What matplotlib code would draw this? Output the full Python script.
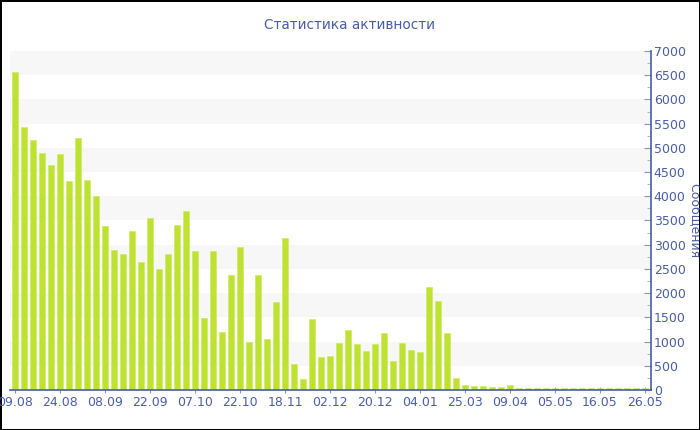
import matplotlib
matplotlib.use("Agg")
from matplotlib import pyplot as plt
import numpy as np

# messages per period (71 bars)
messages = [6570, 5430, 5170, 4900, 4640, 4880, 4320, 5200, 4340, 4000,
            3390, 2890, 2815, 3280, 2650, 3550, 2500, 2800, 3400, 3700,
            2865, 1490, 2880, 1190, 2370, 2960, 990, 2375, 1050, 1815,
            3140, 535, 220, 1465, 675, 700, 980, 1230, 950, 812,
            943, 1170, 592, 964, 826, 792, 2120, 1830, 1170, 248,
            96, 76, 83, 60, 60, 110, 50, 50, 45, 40,
            48, 48, 45, 40, 40, 40, 40, 45, 45, 40, 40]
tick_labels = ['09.08', '24.08', '08.09', '22.09', '07.10', '22.10', '18.11', '02.12',
               '20.12', '04.01', '25.03', '09.04', '05.05', '16.05', '26.05']
label_step = 5

text_color = '#4a5ea8'
bar_color = '#bde232'

plt.rcParams['font.family'] = ['DejaVu Sans']

fig = plt.figure(figsize=(7, 4.3), dpi=100)
fig.patch.set_edgecolor('black')
fig.patch.set_linewidth(2)

ax = fig.add_axes([10 / 700, 1 - 390 / 430, 641 / 700, 339 / 430])

x = np.arange(len(messages))
ax.bar(x, messages, width=0.74, color=bar_color, edgecolor='#cdea5a', linewidth=0.4, zorder=2)

# light stripes every other 500
for lo in range(500, 7000, 1000):
    ax.axhspan(lo, lo + 500, color='#f7f7f7', zorder=0, lw=0)

ax.set_xlim(-0.56, 70.67)
ax.set_ylim(0, 7000)

ax.set_xticks(x[::label_step])
ax.set_xticklabels(tick_labels)
ax.set_yticks(np.arange(0, 7001, 500))
ax.set_yticks(np.arange(250, 7000, 500), minor=True)

ax.yaxis.tick_right()
ax.yaxis.set_label_position('right')

for s in ['top', 'left']:
    ax.spines[s].set_visible(False)
for s in ['bottom', 'right']:
    ax.spines[s].set_color(text_color)
    ax.spines[s].set_linewidth(1.2)

ax.tick_params(axis='y', which='major', direction='in', length=5, color='#8a93b8',
               labelsize=9, labelcolor=text_color, pad=2)
ax.tick_params(axis='y', which='minor', direction='in', length=3, color='#a0a6c0')
ax.tick_params(axis='x', which='major', direction='inout', length=5, color='#8a93b8',
               labelsize=9, labelcolor=text_color, pad=2)

# label sits at the very edge, partly cut off like in the original
ax.set_ylabel('Сообщения', color=text_color, fontsize=9, rotation=270)
ax.yaxis.set_label_coords(1 + 50 / 641, 0.5)

fig.text(0.5, 1 - 25 / 430, 'Статистика активности', ha='center', va='center',
         color=text_color, fontsize=9.8)

fig.savefig('out.png', dpi=100, edgecolor=fig.get_edgecolor())
